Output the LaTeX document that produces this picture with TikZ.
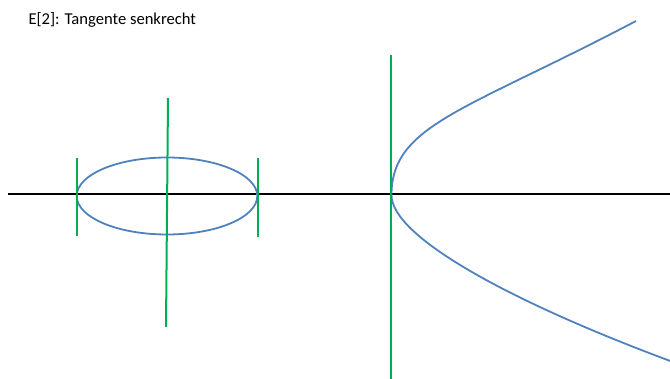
\documentclass[tikz,border=0pt]{standalone}
\usepackage{fontspec}
\setmainfont{Carlito}
\definecolor{offgreen}{HTML}{00B050}
\definecolor{offblue}{HTML}{4F81BD}
\begin{document}
\begin{tikzpicture}[x=1pt,y=-1pt,
  axisline/.style={black,line width=2pt},
  tangent/.style={offgreen,line width=2pt},
  curve/.style={offblue,line width=1.8pt}]
\useasboundingbox (0,0) rectangle (670,379);
\node[anchor=base west,inner sep=0pt,font=\fontsize{16.6}{20}\selectfont] (title) at (28.3,25) {E[2]: Tangente senkrecht};
% axis
\coordinate (axL) at (8,194);
\coordinate (axR) at (670,194);
\draw[axisline] (axL) -- (axR);
% ellipse
\coordinate (ec) at (167,196);
\draw[curve] (ec) ellipse [x radius=90.3, y radius=38.5];
% tangents of ellipse
\coordinate (t1a) at (77,158); \coordinate (t1b) at (77,236);
\coordinate (t2a) at (168,98); \coordinate (t2b) at (166,327);
\coordinate (t3a) at (258,158); \coordinate (t3b) at (258,237);
\draw[tangent] (t1a) -- (t1b);
\draw[tangent] (t2a) -- (t2b);
\draw[tangent] (t3a) -- (t3b);
% parabola-like curve
\coordinate (pv) at (391.5,195);
\coordinate (pu) at (636,21);
\coordinate (pl) at (673,362);
\draw[curve] (pu) .. controls (465,111) and (391.5,125) .. (pv)
  .. controls (391.5,237) and (511,302) .. (pl);
% big tangent
\coordinate (t4a) at (391,55); \coordinate (t4b) at (391,379);
\draw[tangent] (t4a) -- (t4b);
\end{tikzpicture}
\end{document}
